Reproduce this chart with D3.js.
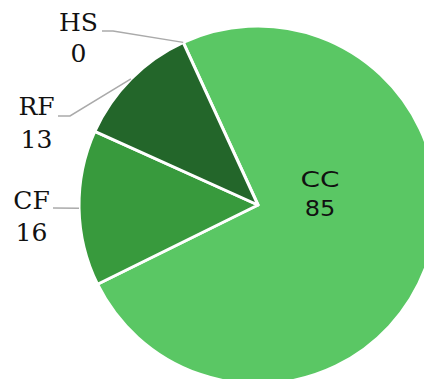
<!DOCTYPE html>
<html>
<head>
<meta charset="utf-8">
<script src="https://cdn.jsdelivr.net/npm/d3@7"></script>
<style>
  html, body { margin: 0; padding: 0; background: #fff; overflow: hidden; }
  svg { display: block; }
</style>
</head>
<body>
<svg id="chart" width="424" height="379"></svg>
<script>
// Slice categories and values
const categories = ["CC", "CF", "RF", "HS"];
const values = [85, 16, 13, 0];
const colors = ["#5ac764", "#389a3d", "#23662a"];

const width = 424, height = 379;
const cx = 258, cy = 205, radius = 179;

const svg = d3.select("#chart");
const g = svg.append("g").attr("transform", `translate(${cx},${cy})`);

const data = categories.map((c, i) => ({ name: c, value: values[i] }));

// Rotate so the zero-value slice sits at the upper left
const offset = -24.7 * Math.PI / 180;
const pie = d3.pie().sort(null).value(d => d.value)
  .startAngle(offset).endAngle(offset + 2 * Math.PI);
const arcs = pie(data);

const arc = d3.arc().innerRadius(0).outerRadius(radius);

g.selectAll("path.slice")
  .data(arcs.filter(d => d.value > 0))
  .join("path")
  .attr("class", "slice")
  .attr("d", arc)
  .attr("fill", (d, i) => colors[i])
  .attr("stroke", "#fff")
  .attr("stroke-width", 3)
  .attr("stroke-linejoin", "round");

// Outside labels with connector lines (layout per label)
const outside = {
  HS: { elbow: [113, 31], end: [102, 31], text: [78.5, 31], gap: 31 },
  RF: { elbow: [70, 116], end: [58, 116], text: [36.5, 115], gap: 33 },
  CF: { elbow: [53, 208], end: [53, 208], text: [31.5, 209], gap: 32 }
};

const labelFont = "'DejaVu Serif', serif";

arcs.forEach(d => {
  const lay = outside[d.data.name];
  if (!lay) return;
  const mid = (d.startAngle + d.endAngle) / 2;
  const sx = cx + radius * Math.sin(mid);
  const sy = cy - radius * Math.cos(mid);
  svg.append("path")
    .attr("d", d3.line()([[sx, sy], lay.elbow, lay.end]))
    .attr("fill", "none")
    .attr("stroke", "#aaaaaa")
    .attr("stroke-width", 1.5);
  const t = svg.append("text")
    .attr("x", lay.text[0]).attr("y", lay.text[1])
    .attr("text-anchor", "middle")
    .attr("font-family", labelFont)
    .attr("font-size", 25)
    .attr("fill", "#111");
  t.append("tspan").attr("x", lay.text[0]).text(d.data.name);
  t.append("tspan").attr("x", lay.text[0]).attr("dy", lay.gap).text(d.value);
});

// Inside label for the largest slice (widened, round sans)
const big = arcs[0];
const innerLines = [
  { text: big.data.name, y: 187, sx: 1.3 },
  { text: big.value, y: 216, sx: 1.12 }
];
innerLines.forEach(l => {
  svg.append("g")
    .attr("transform", `translate(320,${l.y}) scale(${l.sx},1)`)
    .append("text")
    .attr("x", 0).attr("y", 0)
    .attr("text-anchor", "middle")
    .attr("font-family", "'DejaVu Sans', sans-serif")
    .attr("font-size", 21.5)
    .attr("fill", "#111")
    .text(l.text);
});
</script>
</body>
</html>
